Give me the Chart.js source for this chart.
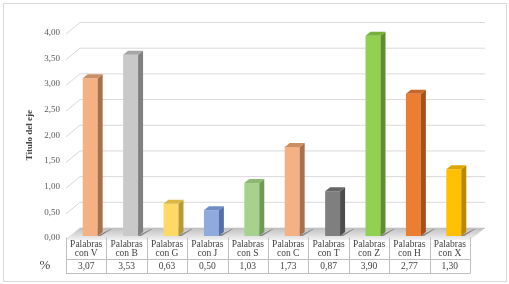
<!DOCTYPE html>
<html>
<head>
<meta charset="utf-8">
<script src="https://cdn.jsdelivr.net/npm/chart.js@4/dist/chart.umd.min.js"></script>
<style>
  html, body { margin: 0; padding: 0; background: #fff; }
  #wrap { width: 509px; height: 284px; }
</style>
</head>
<body>
<div id="wrap"><canvas id="chart" width="509" height="284"></canvas></div>
<script>
const categories = ['V', 'B', 'G', 'J', 'S', 'C', 'T', 'Z', 'H', 'X'];
const percentages = [3.07, 3.53, 0.63, 0.50, 1.03, 1.73, 0.87, 3.90, 2.77, 1.30];
const yTicks = [0, 0.5, 1, 1.5, 2, 2.5, 3, 3.5, 4];

const frontColors = ['#F4B183', '#C9C9C9', '#FFD966', '#8FAADC', '#A9D18E', '#F4B183', '#7F7F7F', '#92D050', '#ED7D31', '#FFC000'];
const sideColors  = ['#A8714B', '#808080', '#B89A35', '#5470A8', '#6E9A55', '#A8714B', '#4D4D4D', '#5E8E2E', '#A3521C', '#B88A00'];
const topColors   = ['#C98E63', '#A6A6A6', '#D9B845', '#6F8CC4', '#8DB872', '#C98E63', '#666666', '#78B03C', '#C8662A', '#DDA600'];

const fmt = v => v.toFixed(2).replace('.', ',');
const DX = 5, DY = 4, SHIFT = 4, LIFT = 2;

const depthPlugin = {
  id: 'depth',
  beforeDraw(chart) {
    const ctx = chart.ctx;
    ctx.save();
    ctx.fillStyle = '#fff';
    ctx.fillRect(0, 0, chart.width, chart.height);
    ctx.strokeStyle = '#d9d9d9';
    ctx.lineWidth = 1;
    ctx.strokeRect(3.5, 3.5, 503, 278);
    ctx.restore();
  },
  beforeDatasetsDraw(chart) {
    const ctx = chart.ctx, y = chart.scales.y, a = chart.chartArea;
    ctx.save();
    // grid lines on the wall
    ctx.strokeStyle = '#d9d9d9';
    ctx.lineWidth = 1;
    yTicks.forEach(v => {
      const p = y.getPixelForValue(v);
      ctx.beginPath();
      ctx.moveTo(a.left, p + 1.5);
      ctx.lineTo(a.left + 14, p - 10);
      ctx.lineTo(a.right + 15, p - 10);
      ctx.stroke();
    });
    // floor
    const b = y.getPixelForValue(0);
    const g = ctx.createLinearGradient(0, b - 10, 0, b + 2);
    g.addColorStop(0, '#bfbfbf');
    g.addColorStop(1, '#f2f2f2');
    ctx.fillStyle = g;
    ctx.beginPath();
    ctx.moveTo(a.left, b + 2);
    ctx.lineTo(a.right, b + 2);
    ctx.lineTo(a.right + 15, b - 10);
    ctx.lineTo(a.left + 14, b - 10);
    ctx.closePath();
    ctx.fill();
    // bar shadows on the floor
    chart.getDatasetMeta(0).data.forEach(bar => {
      const x0 = bar.x - bar.width / 2 + SHIFT, x1 = bar.x + bar.width / 2 + SHIFT;
      ctx.fillStyle = 'rgba(80,80,80,0.6)';
      ctx.beginPath();
      ctx.moveTo(x1 + 3, b - LIFT);
      ctx.lineTo(x1 + 14, b - 9);
      ctx.lineTo(x0 + 28, b - 9);
      ctx.lineTo(x0 + 14, b - LIFT);
      ctx.closePath();
      ctx.fill();
    });
    ctx.translate(SHIFT, -LIFT);
  },
  afterDatasetsDraw(chart) {
    const ctx = chart.ctx;
    chart.getDatasetMeta(0).data.forEach((bar, i) => {
      const x0 = bar.x - bar.width / 2, x1 = bar.x + bar.width / 2;
      const t = bar.y, bs = bar.base;
      ctx.fillStyle = sideColors[i];
      ctx.beginPath();
      ctx.moveTo(x1, t);
      ctx.lineTo(x1 + DX, t - DY);
      ctx.lineTo(x1 + DX, bs - DY);
      ctx.lineTo(x1, bs);
      ctx.closePath();
      ctx.fill();
      ctx.fillStyle = topColors[i];
      ctx.beginPath();
      ctx.moveTo(x0, t);
      ctx.lineTo(x1, t);
      ctx.lineTo(x1 + DX, t - DY);
      ctx.lineTo(x0 + DX, t - DY);
      ctx.closePath();
      ctx.fill();
    });
    ctx.restore();
  },
  afterDraw(chart) {
    const ctx = chart.ctx, x = chart.scales.x, a = chart.chartArea;
    const top = 237.5, mid = 259.5, bot = 273.5;
    const colW = (a.right - a.left) / categories.length;
    ctx.save();
    ctx.strokeStyle = '#bfbfbf';
    ctx.lineWidth = 1;
    ctx.beginPath();
    ctx.moveTo(a.left, mid); ctx.lineTo(a.right, mid);
    ctx.moveTo(a.left, bot); ctx.lineTo(a.right, bot);
    for (let i = 0; i <= categories.length; i++) {
      const px = Math.round(a.left + i * colW) + 0.5;
      ctx.moveTo(px, top); ctx.lineTo(px, bot);
    }
    ctx.stroke();
    ctx.fillStyle = '#404040';
    ctx.textAlign = 'center';
    ctx.textBaseline = 'middle';
    ctx.font = '9.5px "Liberation Serif", serif';
    categories.forEach((c, i) => {
      const cx = x.getPixelForValue(i);
      ctx.fillText('Palabras', cx, 244);
      ctx.fillText('con ' + c, cx, 253.5);
      ctx.fillText(fmt(percentages[i]), cx, 266.5);
    });
    ctx.font = '13px "Liberation Serif", serif';
    ctx.fillText('%', 45, 266);
    ctx.restore();
  }
};

new Chart(document.getElementById('chart').getContext('2d'), {
  type: 'bar',
  data: {
    labels: categories.map(c => ['Palabras', 'con ' + c]),
    datasets: [{
      data: percentages,
      backgroundColor: frontColors,
      borderWidth: 0,
      barPercentage: 0.37,
      categoryPercentage: 1
    }]
  },
  options: {
    responsive: false,
    animation: false,
    events: [],
    layout: { padding: { left: 20, top: 32.5, right: 39, bottom: 46 } },
    plugins: { legend: { display: false }, tooltip: { enabled: false } },
    scales: {
      x: { display: false },
      y: {
        min: 0,
        max: 4,
        border: { display: false },
        grid: { display: false, drawTicks: false },
        afterFit: s => { s.width = 46; },
        ticks: {
          stepSize: 0.5,
          padding: 6,
          color: '#595959',
          font: { family: '"Liberation Serif", serif', size: 9 },
          callback: v => fmt(v)
        },
        title: {
          display: true,
          text: 'Título del eje',
          color: '#404040',
          font: { family: '"Liberation Serif", serif', size: 9, weight: 'bold' },
          padding: { top: 4, bottom: 0 }
        }
      }
    }
  },
  plugins: [depthPlugin]
});
</script>
</body>
</html>
